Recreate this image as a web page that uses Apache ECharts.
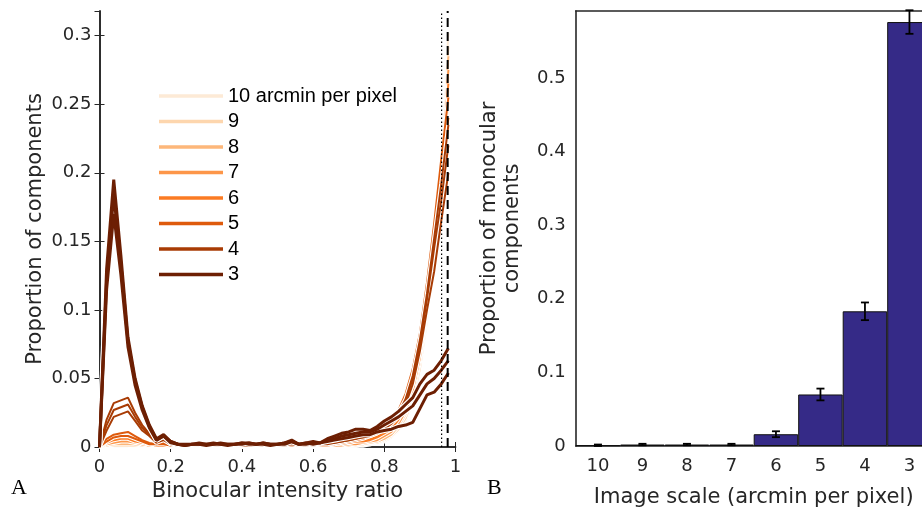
<!DOCTYPE html>
<html><head><meta charset="utf-8">
<script src="https://cdn.jsdelivr.net/npm/echarts@6/dist/echarts.min.js"></script>
<style>html,body{margin:0;padding:0;background:#fff}#c{width:922px;height:510px}</style>
</head><body><div id="c"></div>
<script>
// ---------- Panel A data ----------
const ratioBins = [0,0.02,0.04,0.06,0.08,0.1,0.12,0.14,0.16,0.18,0.2,0.22,0.24,0.26,0.28,0.3,0.32,0.34,0.36,0.38,0.4,0.42,0.44,0.46,0.48,0.5,0.52,0.54,0.56,0.58,0.6,0.62,0.64,0.66,0.68,0.7,0.72,0.74,0.76,0.78,0.8,0.82,0.84,0.86,0.88,0.9,0.92,0.94,0.96,0.98];
const scaleNames = ['10 arcmin per pixel','9','8','7','6','5','4','3'];
const scaleColors = ['#fdead6','#fdd6ae','#fdb77a','#fd9649','#fb7b23','#de5a0c','#a83b04','#6d1f03'];

const curves10 = [
 [0,0.001,0.001,0.001,0.001,0.001,0,0,0,0,0, 0,0,0,0,0,0,0.001,0,0,0,0,0,0,0.001,0,0,0,0,0,0,0.001, 0,0,0.001,0.001,0.001,0.002,0.002,0.003,0.005,0.008,0.013,0.021,0.035,0.058,0.095,0.145,0.21,0.302],
 [0,0,0.001,0.001,0.001,0,0,0,0,0,0, 0,0,0,0,0,0,0,0,0.001,0,0,0,0,0,0,0,0.001,0,0,0,0, 0,0,0,0.001,0.001,0.001,0.002,0.003,0.004,0.007,0.012,0.019,0.032,0.055,0.09,0.14,0.2,0.29]
];
const curves9 = [
 [0,0.001,0.002,0.002,0.002,0.001,0.001,0.001,0,0.001,0, 0,0,0,0.001,0,0,0,0.001,0,0,0,0,0.001,0,0,0,0.001,0,0,0,0.001, 0,0.001,0.001,0.001,0.002,0.002,0.003,0.004,0.006,0.009,0.014,0.023,0.037,0.061,0.098,0.148,0.212,0.292],
 [0,0.001,0.001,0.001,0.001,0.001,0.001,0,0,0,0, 0,0,0,0,0.001,0,0,0,0,0.001,0,0,0,0,0.001,0,0,0,0.001,0,0, 0,0,0.001,0.001,0.001,0.002,0.003,0.003,0.005,0.008,0.013,0.021,0.034,0.057,0.093,0.142,0.205,0.28]
];
const curves8 = [
 [0,0.002,0.003,0.003,0.003,0.002,0.002,0.001,0.001,0.001,0, 0,0.001,0,0,0.001,0,0.001,0,0,0.001,0,0,0.001,0,0.001,0,0.001,0,0.001,0,0.001, 0.001,0.001,0.001,0.002,0.002,0.003,0.004,0.005,0.007,0.011,0.017,0.027,0.042,0.067,0.103,0.152,0.212,0.285],
 [0,0.001,0.002,0.002,0.002,0.002,0.001,0.001,0,0.001,0, 0,0,0.001,0,0,0.001,0,0,0.001,0,0,0.001,0,0,0,0.001,0,0,0.001,0,0.001, 0,0.001,0.001,0.001,0.002,0.002,0.003,0.004,0.006,0.009,0.015,0.024,0.038,0.062,0.097,0.145,0.203,0.27]
];
const curves7 = [
 [0,0.003,0.004,0.005,0.005,0.004,0.002,0.001,0.001,0.001,0.001, 0.001,0,0.001,0,0.001,0.001,0,0.001,0.001,0,0.001,0.001,0,0.001,0.001,0.001,0.001,0,0.001,0.001,0.001, 0.001,0.001,0.002,0.002,0.003,0.004,0.005,0.006,0.009,0.013,0.019,0.029,0.045,0.07,0.106,0.153,0.21,0.275],
 [0,0.002,0.003,0.004,0.004,0.003,0.002,0.001,0.001,0.001,0, 0,0.001,0,0.001,0,0.001,0,0.001,0,0.001,0,0.001,0,0.001,0.001,0,0.001,0,0.001,0.001,0.001, 0.001,0.001,0.001,0.002,0.002,0.003,0.004,0.005,0.008,0.011,0.017,0.026,0.041,0.065,0.1,0.146,0.2,0.262]
];
const curves6 = [
 [0,0.004,0.006,0.007,0.007,0.005,0.003,0.002,0.001,0.002,0.001, 0.001,0.001,0,0.001,0.001,0.001,0.001,0.001,0.001,0,0.001,0.001,0.001,0.001,0.001,0.001,0.001,0.001,0.001,0.001,0.001, 0.001,0.002,0.003,0.003,0.004,0.005,0.006,0.008,0.011,0.015,0.022,0.033,0.05,0.076,0.112,0.158,0.21,0.265],
 [0,0.003,0.005,0.006,0.006,0.004,0.003,0.002,0.001,0.001,0.001, 0.001,0,0.001,0.001,0,0.001,0.001,0.001,0,0.001,0.001,0.001,0.001,0,0.001,0.001,0.001,0.001,0.001,0.001,0.001, 0.001,0.002,0.002,0.003,0.004,0.004,0.005,0.007,0.01,0.013,0.02,0.03,0.046,0.071,0.105,0.15,0.2,0.252]
];
const curves5 = [
 [0,0.006,0.009,0.01,0.011,0.008,0.005,0.003,0.002,0.003,0.001, 0.001,0.001,0.001,0.002,0.001,0.001,0.001,0.002,0.001,0.001,0.001,0.002,0.001,0.001,0.002,0.001,0.002,0.001,0.001,0.002,0.002, 0.002,0.003,0.004,0.005,0.006,0.007,0.009,0.011,0.014,0.019,0.027,0.039,0.057,0.083,0.12,0.163,0.21,0.255],
 [0,0.004,0.007,0.008,0.008,0.006,0.004,0.002,0.002,0.002,0.001, 0.001,0,0.001,0.001,0.001,0.001,0.002,0.001,0.001,0.001,0.001,0.001,0.001,0.002,0.001,0.001,0.001,0.001,0.002,0.001,0.002, 0.002,0.002,0.003,0.004,0.005,0.006,0.008,0.01,0.013,0.017,0.025,0.036,0.053,0.078,0.113,0.155,0.198,0.24]
];
const curves4 = [
 [0,0.02,0.032,0.034,0.036,0.025,0.016,0.01,0.004,0.007,0.003, 0.002,0.001,0.001,0.002,0.001,0.001,0.002,0.001,0.001,0.002,0.001,0.001,0.002,0.001,0.001,0.002,0.003,0.001,0.002,0.002,0.002, 0.003,0.004,0.005,0.006,0.007,0.008,0.01,0.012,0.015,0.019,0.025,0.035,0.052,0.078,0.112,0.152,0.192,0.235],
 [0,0.016,0.027,0.029,0.031,0.022,0.014,0.009,0.004,0.006,0.002, 0.001,0.001,0.002,0.001,0.001,0.002,0.001,0.001,0.002,0.001,0.001,0.002,0.001,0.001,0.002,0.001,0.003,0.001,0.001,0.002,0.002, 0.003,0.003,0.004,0.005,0.006,0.008,0.009,0.011,0.014,0.018,0.024,0.034,0.05,0.075,0.108,0.145,0.18,0.22],
 [0,0.012,0.022,0.024,0.026,0.019,0.012,0.008,0.003,0.005,0.002, 0.001,0.001,0.001,0.001,0.002,0.001,0.001,0.001,0.001,0.002,0.001,0.001,0.001,0.002,0.001,0.001,0.002,0.001,0.002,0.001,0.002, 0.002,0.003,0.004,0.005,0.006,0.007,0.008,0.01,0.013,0.017,0.022,0.031,0.046,0.07,0.1,0.128,0.165,0.2]
];
const curves3 = [
 [0,0.13,0.195,0.14,0.08,0.05,0.03,0.016,0.006,0.009,0.004, 0.002,0.002,0.002,0.003,0.002,0.002,0.003,0.002,0.002,0.003,0.003,0.002,0.003,0.002,0.002,0.003,0.005,0.002,0.003,0.004,0.003, 0.006,0.008,0.01,0.011,0.013,0.013,0.012,0.015,0.019,0.022,0.026,0.031,0.036,0.046,0.053,0.056,0.063,0.072],
 [0,0.122,0.184,0.134,0.077,0.048,0.029,0.015,0.005,0.008,0.004, 0.002,0.001,0.002,0.002,0.002,0.003,0.002,0.002,0.002,0.003,0.002,0.002,0.003,0.002,0.002,0.002,0.004,0.002,0.002,0.003,0.003, 0.005,0.006,0.008,0.009,0.01,0.011,0.011,0.013,0.016,0.019,0.022,0.026,0.03,0.038,0.046,0.05,0.056,0.063],
 [0,0.115,0.17,0.126,0.073,0.045,0.027,0.014,0.005,0.008,0.003, 0.002,0.001,0.002,0.002,0.001,0.002,0.002,0.001,0.002,0.002,0.003,0.002,0.002,0.001,0.002,0.003,0.004,0.002,0.003,0.002,0.003, 0.004,0.005,0.006,0.007,0.008,0.009,0.009,0.011,0.012,0.013,0.015,0.016,0.018,0.028,0.038,0.04,0.046,0.054]
];
const dottedRatio = 0.961;
const dashedRatio = 0.978;
const ratioTicks = [0,0.2,0.4,0.6,0.8,1];
const proportionTicks = [0,0.05,0.1,0.15,0.2,0.25,0.3];
const proportionMax = 0.318;

// ---------- Panel B data ----------
const imageScales = ['10','9','8','7','6','5','4','3'];
const monocularProp = [0.001,0.002,0.002,0.002,0.016,0.07,0.183,0.576];
const monocularErr  = [0.001,0.001,0.001,0.001,0.004,0.008,0.012,0.016];
const monocularTicks = [0,0.1,0.2,0.3,0.4,0.5];
const monocularMax = 0.591;

const curveSets = [curves10,curves9,curves8,curves7,curves6,curves5,curves4,curves3];

const AX = '#262626';
const axisFont = 'DejaVu Sans';

const series = [];
curveSets.forEach((set, si) => {
  const w = si === 7 ? 3 : 2;
  set.forEach(vals => {
    series.push({type:'line', xAxisIndex:0, yAxisIndex:0, name:'halo', silent:true, symbol:'none',
      data: vals.map((v,i)=>[ratioBins[i], v]), lineStyle:{color:'#ffffff', width:w+2.2}, itemStyle:{color:'#ffffff'}, z:2});
  });
  set.forEach(vals => {
    series.push({type:'line', xAxisIndex:0, yAxisIndex:0, name:scaleNames[si], symbol:'none',
      data: vals.map((v,i)=>[ratioBins[i], v]), lineStyle:{color:scaleColors[si], width:w}, itemStyle:{color:scaleColors[si]}, z:2});
  });
});
series.push({type:'line', xAxisIndex:0, yAxisIndex:0, name:'dotted', silent:true, symbol:'none',
  data:[[dottedRatio,0],[dottedRatio,proportionMax]], lineStyle:{color:'#000', width:1.2, type:[1.5,2.5]}, z:3});
series.push({type:'line', xAxisIndex:0, yAxisIndex:0, name:'dashed', silent:true, symbol:'none',
  data:[[dashedRatio,0],[dashedRatio,proportionMax]], lineStyle:{color:'#000', width:2, type:[9,5]}, z:3});

series.push({type:'bar', xAxisIndex:2, yAxisIndex:2, name:'monocular', data: monocularProp,
  barCategoryGap:'0%', itemStyle:{color:'#352a87', borderColor:'#111', borderWidth:1}, z:2});
series.push({type:'custom', xAxisIndex:2, yAxisIndex:2, name:'err', z:4,
  data: monocularProp.map((v,i)=>[i, v, monocularErr[i]]),
  encode:{x:0, y:1},
  renderItem(params, api){
    const x = api.value(0), v = api.value(1), e = api.value(2);
    const t = api.coord([x, v+e]), b = api.coord([x, v-e]);
    const hw = 4, st = {stroke:'#000', lineWidth:1.8};
    return {type:'group', children:[
      {type:'line', shape:{x1:t[0], y1:t[1], x2:b[0], y2:b[1]}, style:st},
      {type:'line', shape:{x1:t[0]-hw, y1:t[1], x2:t[0]+hw, y2:t[1]}, style:st},
      {type:'line', shape:{x1:b[0]-hw, y1:b[1], x2:b[0]+hw, y2:b[1]}, style:st}
    ]};
  }
});

const tickStyle = {inside:true, length:5, lineStyle:{color:AX, width:1}};
const lineStyleAx = {show:true, lineStyle:{color:AX, width:1.6}};

const option = {
  animation:false,
  backgroundColor:'#ffffff',
  grid:[
    {left:99.5, top:11, width:356, height:436, containLabel:false, outerBoundsMode:'none'},
    {left:575.7, top:11, width:356, height:435, containLabel:false, outerBoundsMode:'none'}
  ],
  legend:{
    data: scaleNames, orient:'vertical', left:159, top:86, padding:0,
    itemWidth:64, itemHeight:3.5, itemGap:5.5, icon:'rect',
    textStyle:{fontFamily:'Liberation Sans', fontSize:20, color:'#000', lineHeight:20},
    selectedMode:false
  },
  xAxis:[
    {type:'value', gridIndex:0, min:0, max:1, interval:ratioTicks[1]-ratioTicks[0], position:'bottom',
      axisLine:lineStyleAx, axisTick:tickStyle, splitLine:{show:false},
      axisLabel:{color:AX, fontSize:18, fontFamily:axisFont, margin:11},
      name:'Binocular intensity ratio', nameLocation:'middle', nameGap:31,
      nameTextStyle:{color:AX, fontSize:21, fontFamily:axisFont}},
    {type:'value', gridIndex:0, min:0, max:1, interval:ratioTicks[1]-ratioTicks[0], position:'top',
      axisLine:lineStyleAx, axisTick:tickStyle, splitLine:{show:false}, axisLabel:{show:false}},
    {type:'category', gridIndex:1, data:imageScales, position:'bottom',
      axisLine:lineStyleAx, axisTick:{...tickStyle, alignWithLabel:true}, splitLine:{show:false},
      axisLabel:{color:AX, fontSize:18, fontFamily:axisFont, margin:11},
      name:'Image scale (arcmin per pixel)', nameLocation:'middle', nameGap:41,
      nameTextStyle:{color:AX, fontSize:21, fontFamily:axisFont}},
    {type:'category', gridIndex:1, data:imageScales, position:'top',
      axisLine:lineStyleAx, axisTick:{...tickStyle, alignWithLabel:true}, splitLine:{show:false}, axisLabel:{show:false}}
  ],
  yAxis:[
    {type:'value', gridIndex:0, min:0, max:proportionMax, interval:proportionTicks[1]-proportionTicks[0], position:'left',
      axisLine:lineStyleAx, axisTick:tickStyle, splitLine:{show:false},
      axisLabel:{color:AX, fontSize:18, fontFamily:axisFont, margin:8, showMaxLabel:false},
      name:'Proportion of components', nameLocation:'middle', nameGap:53,
      nameTextStyle:{color:AX, fontSize:21, fontFamily:axisFont}},
    {type:'value', gridIndex:0, min:0, max:proportionMax, interval:proportionTicks[1]-proportionTicks[0], position:'right',
      axisLine:lineStyleAx, axisTick:tickStyle, splitLine:{show:false}, axisLabel:{show:false}},
    {type:'value', gridIndex:1, min:0, max:monocularMax, interval:monocularTicks[1]-monocularTicks[0], position:'left',
      axisLine:lineStyleAx, axisTick:tickStyle, splitLine:{show:false},
      axisLabel:{color:AX, fontSize:18, fontFamily:axisFont, margin:10, showMaxLabel:false},
      name:'Proportion of monocular\ncomponents', nameLocation:'middle', nameGap:52,
      nameTextStyle:{color:AX, fontSize:21, fontFamily:axisFont, lineHeight:23, align:'center'}}
  ],
  graphic:[
    {type:'text', left:11, top:477, style:{text:'A', font:'22px "Liberation Serif"', fill:'#000'}},
    {type:'text', left:487, top:477, style:{text:'B', font:'22px "Liberation Serif"', fill:'#000'}}
  ],
  series
};
const chart = echarts.init(document.getElementById('c'), null, {renderer:'canvas'});
chart.setOption(option);
</script>
</body></html>
